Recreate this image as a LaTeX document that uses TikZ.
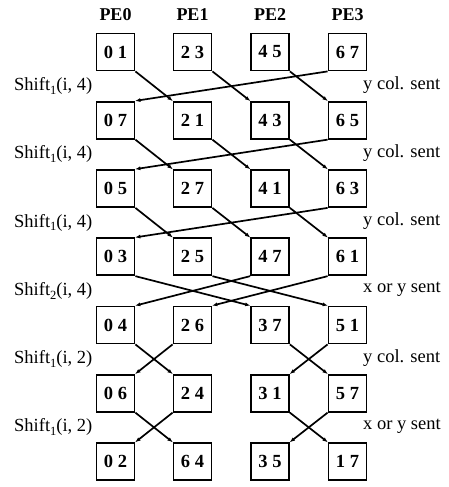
\documentclass[tikz,border=0pt]{standalone}
\usepackage{fontspec}
\setmainfont{Liberation Serif}
\usetikzlibrary{arrows.meta}

% subscripted shift label
\newcommand{\shiftlbl}[2]{Shift\raisebox{-0.45ex}{\fontsize{12.5}{12.5}\selectfont #1}(i, #2)}

\tikzset{
  pebox/.style={draw, line width=1.8pt, minimum width=38pt, minimum height=37pt,
    inner sep=0pt, font=\fontsize{18.5}{20}\selectfont\bfseries},
  pehead/.style={font=\fontsize{18}{20}\selectfont\bfseries},
  steplbl/.style={font=\fontsize{18.5}{20}\selectfont, anchor=west, inner sep=0pt},
  sendlbl/.style={font=\fontsize{18.5}{20}\selectfont, anchor=west, inner sep=0pt},
  mv/.style={line width=1.7pt, -{Latex[length=5.5pt,width=4pt]}, shorten >=-0.5pt}
}

\begin{document}
\begin{tikzpicture}[x=1pt, y=-1pt]
\useasboundingbox (0,0) rectangle (449,487);

% column and row centres
\def\colx{{0,115.5,192.5,270,347.5}}
\def\rowy{{0,52,120.25,188.5,256.75,325,393.25,461.5}}

% processor headings
\foreach \c/\t in {1/PE0,2/PE1,3/PE2,4/PE3}
  \node[pehead] (pe\c) at ({\colx[\c]}, 15) {\t};

% data boxes, row by row
\foreach \r/\a/\b/\cc/\d in {1/0 1/2 3/4 5/6 7,
                             2/0 7/2 1/4 3/6 5,
                             3/0 5/2 7/4 1/6 3,
                             4/0 3/2 5/4 7/6 1,
                             5/0 4/2 6/3 7/5 1,
                             6/0 6/2 4/3 1/5 7,
                             7/0 2/6 4/3 5/1 7} {
  \node[pebox] (n-\r-1) at ({\colx[1]}, {\rowy[\r]}) {\a};
  \node[pebox] (n-\r-2) at ({\colx[2]}, {\rowy[\r]}) {\b};
  \node[pebox] (n-\r-3) at ({\colx[3]}, {\rowy[\r]}) {\cc};
  \node[pebox] (n-\r-4) at ({\colx[4]}, {\rowy[\r]}) {\d};
}

% step labels between rows
\foreach \r/\s/\m/\txt in {1/1/4/y col. sent, 2/1/4/y col. sent, 3/1/4/y col. sent,
                           4/2/4/x or y sent, 5/1/2/y col. sent, 6/1/2/x or y sent} {
  \node[steplbl] (l\r) at (14, {\rowy[\r]+34}) {\shiftlbl{\s}{\m}};
  \node[sendlbl] (r\r) at (363, {\rowy[\r]+33}) {\txt};
}

% cyclic shift by one over four PEs
\foreach \r [evaluate=\r as \q using int(\r+1)] in {1,2,3} {
  \draw[mv] (n-\r-1.south east) -- (n-\q-2.north west);
  \draw[mv] (n-\r-2.south east) -- (n-\q-3.north west);
  \draw[mv] (n-\r-3.south east) -- (n-\q-4.north west);
  \draw[mv] (n-\r-4.south west) -- (n-\q-1.north east);
}

% shift by two over four PEs
\draw[mv] (n-4-1.south east) -- (n-5-3.north west);
\draw[mv] (n-4-2.south east) -- (n-5-4.north west);
\draw[mv] (n-4-3.south west) -- (n-5-1.north east);
\draw[mv] (n-4-4.south west) -- (n-5-2.north east);

% pairwise exchanges
\foreach \r [evaluate=\r as \q using int(\r+1)] in {5,6} {
  \draw[mv] (n-\r-1.south east) -- (n-\q-2.north west);
  \draw[mv] (n-\r-2.south west) -- (n-\q-1.north east);
  \draw[mv] (n-\r-3.south east) -- (n-\q-4.north west);
  \draw[mv] (n-\r-4.south west) -- (n-\q-3.north east);
}
\end{tikzpicture}
\end{document}
